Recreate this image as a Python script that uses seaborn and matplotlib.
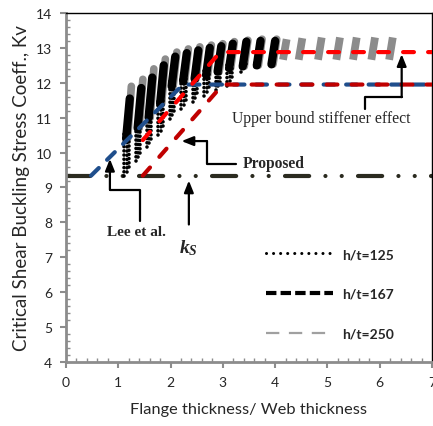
import matplotlib
matplotlib.use("Agg")
import matplotlib.pyplot as plt
import seaborn as sns
from matplotlib.lines import Line2D
from matplotlib.ticker import MultipleLocator

# ---- design curves ----
ks_x = [0.0, 7.0]
ks_y = [9.34, 9.34]
lee_x = [0.48, 2.24, 7.0]
lee_y = [9.34, 11.95, 11.95]
prop_lo_x = [1.47, 3.00, 7.0]
prop_lo_y = [9.34, 11.95, 11.95]
prop_up_x = [1.47, 2.95, 7.0]
prop_up_y = [10.36, 12.88, 12.88]

# ---- FE results, read per column of points ----
blk_x = [1.15, 1.37, 1.58, 1.80, 2.02, 2.24, 2.46, 2.68, 2.90, 3.12, 3.38, 3.65, 3.93]
dot_lo = [9.33, 9.75, 10.15, 10.50, 10.95, 11.25, 11.45, 11.62, 11.78, 11.92, 12.30, 12.45, 12.50]
blk_lo = [10.40, 10.70, 11.00, 11.40, 11.90, 12.05, 12.12, 12.22, 12.32, 12.42, 12.47, 12.50, 12.53]
blk_hi = [11.55, 11.85, 12.15, 12.50, 12.75, 12.85, 12.93, 13.00, 13.05, 13.12, 13.18, 13.20, 13.20]
gry_hi_on_blk = [11.90, 12.10, 12.40, 12.68, 12.88, 12.97, 13.03, 13.08, 13.12, 13.18, 13.22, 13.25, 13.25]
gry_x = [4.15, 4.45, 4.82, 5.17, 5.49, 5.84, 6.18]
gry_lo = [12.66, 12.66, 12.66, 12.66, 12.66, 12.66, 12.66]
gry_hi = [13.25, 13.28, 13.30, 13.30, 13.30, 13.30, 13.30]

legend_labels = ["h/t=125", "h/t=167", "h/t=250"]

sns.set_style("white")
plt.rcParams["font.family"] = ["Lato", "DejaVu Sans"]
plt.rcParams["mathtext.fontset"] = "custom"
plt.rcParams["mathtext.it"] = "Liberation Serif:italic:bold"
plt.rcParams["mathtext.rm"] = "Liberation Serif:bold"

fig = plt.figure(figsize=(4.33, 4.27), dpi=100)
ax = fig.add_axes([0.1524, 0.1499, 0.8453, 0.8173])

tilt = 0.07
# gray (h/t=250) behind
for x, lo, hi in zip(blk_x, blk_lo, gry_hi_on_blk):
    ax.plot([x + 0.03, x + 0.03 + tilt], [lo, hi], color="#8c8c8c", lw=5.5,
            solid_capstyle="round", zorder=2.5)
for x, lo, hi in zip(gry_x, gry_lo, gry_hi):
    ax.plot([x, x + tilt], [lo, hi], color="#8c8c8c", lw=5.6,
            solid_capstyle="butt", zorder=2.5)
# dotted (h/t=125) tails, a few staggered sub-columns per column
for x, lo, hi in zip(blk_x, dot_lo, blk_lo):
    for dx, dy in [(-0.035, 0.0), (0.01, 0.12), (0.055, 0.25)]:
        ax.plot([x + dx, x + dx], [lo + dy, hi + 0.15], color="black", lw=2.6,
                linestyle=(0, (0.01, 1.15)), dash_capstyle="round", zorder=3)
# dense black (h/t=167)
for x, lo, hi in zip(blk_x, blk_lo, blk_hi):
    ax.plot([x, x + tilt], [lo, hi], color="black", lw=6,
            solid_capstyle="round", zorder=3)

# design lines through seaborn
sns.lineplot(x=ks_x, y=ks_y, ax=ax, color="#2b2b20", lw=3, estimator=None,
             linestyle=(0, (5.8, 3.9, 0.01, 3.9, 0.01, 3.9)),
             dash_capstyle="round", zorder=2)
sns.lineplot(x=lee_x, y=lee_y, ax=ax, color="#1f4e8c", lw=3, estimator=None,
             linestyle=(0, (2.6, 2.8)), dash_capstyle="round", zorder=4)
sns.lineplot(x=prop_lo_x, y=prop_lo_y, ax=ax, color="#c00000", lw=3, estimator=None,
             linestyle=(0, (2.6, 3.4)), dash_capstyle="round", zorder=5)
sns.lineplot(x=prop_up_x, y=prop_up_y, ax=ax, color="#ff0000", lw=3, estimator=None,
             linestyle=(0, (2.6, 3.4)), dash_capstyle="round", zorder=6)

# annotations
arr = dict(arrowstyle="-|>,head_length=0.7,head_width=0.28", lw=1.6,
           color="black", shrinkA=0, shrinkB=0)
ax.plot([5.72, 5.72, 6.42], [11.24, 11.59, 11.59], color="black", lw=1.6, zorder=7)
ax.annotate("", xy=(6.42, 12.82), xytext=(6.42, 11.59), arrowprops=arr, zorder=7)
ax.plot([3.26, 2.69, 2.69], [9.68, 9.68, 10.33], color="black", lw=1.6, zorder=7)
ax.annotate("", xy=(2.21, 10.33), xytext=(2.69, 10.33), arrowprops=arr, zorder=7)
ax.plot([1.415, 1.415, 0.84], [8.03, 8.94, 8.94], color="black", lw=1.6, zorder=7)
ax.annotate("", xy=(0.84, 9.82), xytext=(0.84, 8.94), arrowprops=arr, zorder=7)
ax.annotate("", xy=(2.35, 9.2), xytext=(2.35, 7.94), arrowprops=arr, zorder=7)

ax.text(3.17, 11.0, "Upper bound stiffener effect", family="Liberation Serif",
        fontsize=11.3, va="center", ha="left")
ax.text(3.38, 9.69, "Proposed", family="Liberation Serif", fontweight="bold",
        fontsize=11.2, va="center", ha="left")
ax.text(1.35, 7.74, "Lee et al.", family="Liberation Serif", fontweight="bold",
        fontsize=11, va="center", ha="center")
ax.text(2.35, 7.28, r"$k_S$", fontsize=14, va="center", ha="center")

# legend
handles = [
    Line2D([], [], color="black", lw=2.2, linestyle=(0, (0.01, 2.3)), dash_capstyle="round"),
    Line2D([], [], color="black", lw=3, linestyle=(0, (2.5, 1.0))),
    Line2D([], [], color="#a0a0a0", lw=1.6, linestyle=(0, (6, 4.3))),
]
ax.legend(handles, legend_labels, loc="center left", bbox_to_anchor=(0.546, 0.195),
          frameon=False, prop={"weight": "bold", "size": 10}, handlelength=4.8,
          handletextpad=0.7, labelspacing=2.0, borderpad=0, borderaxespad=0)

ax.set_xlim(0, 7)
ax.set_ylim(4, 14)
ax.xaxis.set_major_locator(MultipleLocator(1))
ax.xaxis.set_minor_locator(MultipleLocator(0.2))
ax.yaxis.set_major_locator(MultipleLocator(1))
ax.yaxis.set_minor_locator(MultipleLocator(0.2))
ax.tick_params(which="major", direction="out", length=4, width=1.5, color="#8c8c8c",
               labelsize=10, pad=6, bottom=True, left=True)
ax.tick_params(which="minor", direction="in", length=3, width=1, color="#8c8c8c",
               bottom=True, left=True)
for s in ["left", "bottom"]:
    ax.spines[s].set_color("#8c8c8c")
    ax.spines[s].set_linewidth(2)
for s in ["top", "right"]:
    ax.spines[s].set_color("black")
    ax.spines[s].set_linewidth(1)

ax.set_xlabel("Flange thickness/ Web thickness", fontsize=11.8, labelpad=10)
ax.set_ylabel("Critical Shear Buckling Stress Coeff., Kv", fontsize=13.5, labelpad=4)

fig.savefig("out.png", dpi=100)
